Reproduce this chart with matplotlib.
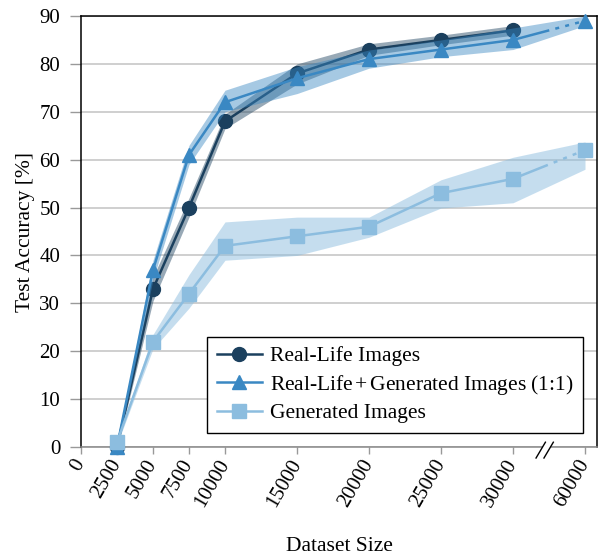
import matplotlib
matplotlib.use("Agg")
import matplotlib.pyplot as plt
from matplotlib.lines import Line2D

plt.rcParams['font.family'] = ['Liberation Serif', 'DejaVu Serif']
plt.rcParams['mathtext.fontset'] = 'stix'

# ---------------- data ----------------
sizes = [2500, 5000, 7500, 10000, 15000, 20000, 25000, 30000, 60000]

real_sizes = [2500, 5000, 7500, 10000, 15000, 20000, 25000, 30000]
real_acc = [0, 33, 50, 68, 78, 83, 85, 87]
real_lo = [-0.5, 30.5, 48, 66.5, 75.8, 81.8, 84, 86]
real_hi = [0.5, 35.5, 52, 69.5, 80, 84.2, 86, 88]

mix_acc = [0, 37, 61, 72, 77, 81, 83, 85, 89]
mix_lo = [-0.5, 35, 59, 70, 73.8, 79.1, 81.5, 83, 88]
mix_hi = [0.5, 39, 63, 74.5, 79.4, 82.9, 85, 87.5, 90]

gen_acc = [1, 22, 32, 42, 44, 46, 53, 56, 62]
gen_lo = [0.5, 20.5, 29, 39, 40, 43.8, 49.9, 51, 58]
gen_hi = [1.5, 23.5, 36, 47, 48, 48, 55.8, 60.5, 63.7]

xtick_vals = [0, 2500, 5000, 7500, 10000, 15000, 20000, 25000, 30000, 60000]
xtick_labels = [str(v) for v in xtick_vals]
yticks = list(range(0, 91, 10))

labels = ["Real-Life Images", "Real-Life$\\,$+$\\,$Generated Images (1:1)", "Generated Images"]
c_dark = "#1b405e"
c_mid = "#3a88c3"
c_light = "#8cbddf"

BREAK_POS = 35000  # axis position used for the 60000 entry


def pos(v):
    return v if v <= 30000 else BREAK_POS


fig = plt.figure(figsize=(6.0, 5.57), dpi=100)
ax = fig.add_axes([81 / 600, 1 - 447 / 557, (597 - 81) / 600, (447 - 16) / 557])

ax.set_xlim(0, 35833)
ax.set_ylim(0, 90)

# grid
ax.set_yticks(yticks)
ax.yaxis.grid(True, color="#cccccc", linewidth=1.3, zorder=0)
ax.set_axisbelow(True)

dash_seg = (0, (15, 2.5, 1.6, 2.5, 1.6, 2.5, 1.6, 2.5, 1.6, 2.5, 1.6, 2.5, 20, 1))


def draw_series(xs, ys, lo, hi, color, band_color, band_alpha, marker, ms, z):
    px = [pos(v) for v in xs]
    ax.fill_between(px, lo, hi, color=band_color, alpha=band_alpha, linewidth=0, zorder=z)
    n_solid = sum(1 for v in xs if v <= 30000)
    ax.plot(px[:n_solid], ys[:n_solid], color=color, linewidth=1.8, zorder=z + 0.1,
            solid_capstyle="round")
    if len(px) > n_solid:
        ax.plot(px[n_solid - 1:], ys[n_solid - 1:], color=color, linewidth=1.8,
                linestyle=dash_seg, zorder=z + 0.1)
    ax.plot(px, ys, linestyle="none", marker=marker, markersize=ms, color=color,
            markeredgecolor=color, zorder=z + 0.2, clip_on=False)


draw_series(real_sizes, real_acc, real_lo, real_hi, c_dark, "#1b405e", 0.45, "o", 10, 3)
draw_series(sizes, mix_acc, mix_lo, mix_hi, c_mid, "#3a88c3", 0.45, "^", 10, 4)
draw_series(sizes, gen_acc, gen_lo, gen_hi, c_light, "#8cbddf", 0.5, "s", 9.5, 5)

# ticks
ax.set_xticks([pos(v) for v in xtick_vals])
ax.set_xticklabels(xtick_labels, rotation=60, ha="right", va="center", rotation_mode="anchor")
ax.tick_params(axis="x", direction="out", length=5, width=1, color="#999999", pad=5,
               labelsize=15)
ax.tick_params(axis="y", direction="out", length=8, width=1, color="#999999", pad=7,
               labelsize=15)

for s in ["left", "top", "right"]:
    ax.spines[s].set_color("black")
    ax.spines[s].set_linewidth(1.1)
ax.spines["bottom"].set_color("#888888")
ax.spines["bottom"].set_linewidth(1.1)

# axis break marks
ax.plot([32050, 32600], [0, 0], color="white", linewidth=3, clip_on=False, zorder=10,
        solid_capstyle="butt")
for x0 in [31600, 32150]:
    ax.plot([x0, x0 + 650], [-2.3, 1.0], color="black", linewidth=1, clip_on=False, zorder=11)

ax.set_xlabel("Dataset Size", fontsize=15.5)
ax.xaxis.set_label_coords(0.5, -0.208)
ax.set_ylabel("Test Accuracy [%]", fontsize=15.5, labelpad=3)

handles = [
    Line2D([], [], color=c_dark, marker="o", markersize=10, linewidth=1.8),
    Line2D([], [], color=c_mid, marker="^", markersize=10, linewidth=1.8),
    Line2D([], [], color=c_light, marker="s", markersize=9.5, linewidth=1.8),
]
leg = ax.legend(handles, labels, loc="lower right",
                bbox_to_anchor=((583 - 81) / 516, (447 - 433) / 431),
                borderaxespad=0, fontsize=15.5, frameon=True, fancybox=False,
                edgecolor="black", framealpha=1, handlelength=2.1, borderpad=0.45,
                labelspacing=0.3, handletextpad=0.35)
leg.get_frame().set_linewidth(1.0)
leg.set_zorder(20)

fig.savefig("out.png", dpi=100)
